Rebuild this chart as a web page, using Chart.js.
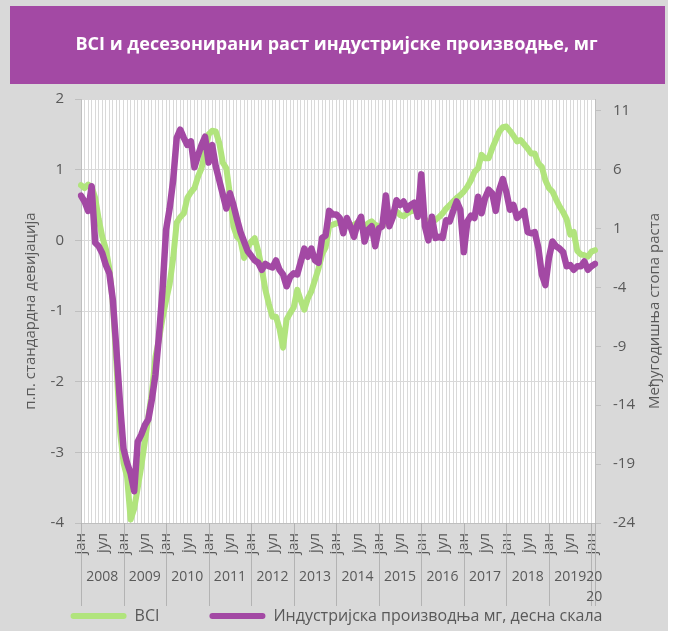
<!DOCTYPE html>
<html>
<head>
<meta charset="utf-8">
<script src="https://cdn.jsdelivr.net/npm/chart.js@4/dist/chart.umd.min.js"></script>
<style>
  html, body { margin: 0; padding: 0; background: #ffffff; }
</style>
</head>
<body>
<canvas id="chart" width="673" height="631"></canvas>
<script>
// Data (monthly, Jan 2008 - Feb 2020)
var years = ['2008', '2009', '2010', '2011', '2012', '2013', '2014', '2015', '2016', '2017', '2018', '2019', '2020'];
var monthTicks = ['јан', 'јул'];
var leftTicks = [-4, -3, -2, -1, 0, 1, 2];
var rightTicks = [-24, -19, -14, -9, -4, 1, 6, 11];

// BCI, standard deviations (left scale)
var bci = [
  0.78, 0.74, 0.79, 0.76, 0.60, 0.30, 0.05, -0.12, -0.40, -0.90, -1.75, -2.70,
  -3.15, -3.35, -3.95, -3.80, -3.50, -3.20, -2.85, -2.50, -2.15, -1.65, -1.40, -1.10,
  -0.85, -0.62, -0.25, 0.25, 0.33, 0.38, 0.60, 0.68, 0.74, 0.90, 1.02, 1.25,
  1.50, 1.55, 1.54, 1.38, 1.10, 1.02, 0.65, 0.20, 0.05, 0.00, -0.25, -0.10,
  -0.02, 0.03, -0.15, -0.40, -0.70, -0.90, -1.08, -1.08, -1.25, -1.52, -1.12, -1.03,
  -0.95, -0.70, -0.85, -0.98, -0.82, -0.72, -0.56, -0.40, -0.20, -0.10, 0.20, 0.22,
  0.24, 0.25, 0.22, 0.24, 0.20, 0.22, 0.25, 0.22, 0.20, 0.24, 0.27, 0.22,
  0.20, 0.20, 0.30, 0.38, 0.40, 0.41, 0.36, 0.34, 0.38, 0.41, 0.42, 0.43,
  0.40, 0.30, 0.25, 0.28, 0.29, 0.33, 0.38, 0.45, 0.50, 0.55, 0.60, 0.64,
  0.69, 0.76, 0.85, 0.97, 1.02, 1.21, 1.16, 1.16, 1.30, 1.42, 1.54, 1.60,
  1.61, 1.55, 1.48, 1.40, 1.42, 1.36, 1.30, 1.23, 1.23, 1.09, 1.04, 0.85,
  0.74, 0.69, 0.58, 0.48, 0.40, 0.30, 0.08, 0.12, -0.15, -0.20, -0.21, -0.23,
  -0.16, -0.14
];

// industrial production y/y growth, % (right scale)
var industry = [
  3.8, 3.3, 2.5, 4.6, -0.2, -0.5, -1.1, -2.1, -2.8, -5.1, -9.3, -13.8,
  -17.7, -18.9, -19.8, -21.3, -17.1, -16.5, -15.7, -15.2, -13.5, -11.4, -8.1, -4.2,
  0.9, 2.7, 5.1, 8.7, 9.4, 8.7, 8.1, 8.4, 6.2, 7.2, 8.1, 8.8,
  6.6, 8.1, 6.3, 5.1, 3.9, 2.7, 4.0, 3.0, 1.8, 0.7, -0.1, -0.9,
  -1.3, -1.7, -1.9, -2.5, -2.0, -2.2, -2.3, -1.7, -2.5, -2.9, -3.9, -3.1,
  -2.8, -2.9, -1.8, -0.7, -1.4, -0.7, -1.7, -1.9, 0.2, 0.4, 2.5, 2.2,
  2.2, 1.9, 0.6, 1.9, 1.2, 0.3, 1.4, 2.0, -0.1, 0.9, 1.2, -0.5,
  1.0, 1.2, 3.8, 1.2, 2.0, 3.4, 3.0, 3.3, 2.6, 3.0, 3.2, 2.0,
  5.6, 1.2, 0.0, 2.0, 0.2, 0.3, 0.2, 1.7, 1.6, 2.5, 3.3, 2.6,
  -1.0, 1.6, 2.1, 1.9, 3.7, 2.3, 3.6, 4.3, 4.0, 2.5, 4.3, 5.2,
  4.1, 2.6, 3.0, 1.9, 2.2, 2.5, 0.7, 0.6, 0.7, -0.6, -2.9, -3.8,
  -1.5, -0.1, -0.5, -0.7, -1.0, -2.2, -2.1, -2.5, -2.2, -2.2, -1.8, -2.5,
  -2.2, -2.0
];

var green = '#b1e47d';
var purple = '#a349a4';
var textGray = '#595959';
var fontName = '"Open Sans", "Noto Sans", sans-serif';

// one category per month
var labels = [];
for (var i = 0; i < bci.length; i++) {
  labels.push(years[Math.floor(i / 12)] + '-' + (i % 12 + 1));
}

// gray page, purple title bar, white plot area
var backgroundPlugin = {
  id: 'background',
  beforeDraw: function (chart) {
    var ctx = chart.ctx;
    var a = chart.chartArea;
    ctx.save();
    ctx.fillStyle = '#ffffff';
    ctx.fillRect(0, 0, chart.width, chart.height);
    ctx.fillStyle = '#d9d9d9';
    ctx.fillRect(0, 0, 668, chart.height);
    ctx.fillStyle = purple;
    ctx.fillRect(10, 6, 655, 78);
    ctx.fillStyle = '#ffffff';
    ctx.fillRect(a.left, a.top, a.right - a.left, a.bottom - a.top);
    ctx.restore();
  }
};

// year labels + separators under the axis, right axis title
var extrasPlugin = {
  id: 'extras',
  afterDraw: function (chart) {
    var ctx = chart.ctx;
    var x = chart.scales.x;
    var a = chart.chartArea;
    var last = bci.length - 1;
    ctx.save();
    ctx.strokeStyle = '#b3b3b3';
    ctx.lineWidth = 1;
    for (var k = 0; k <= years.length; k++) {
      var idx = Math.min(k * 12, last);
      var px = Math.round(x.getPixelForValue(idx)) + 0.5;
      ctx.beginPath();
      ctx.moveTo(px, a.bottom);
      ctx.lineTo(px, 606);
      ctx.stroke();
    }
    ctx.fillStyle = textGray;
    ctx.font = '14px ' + fontName;
    ctx.textAlign = 'center';
    ctx.textBaseline = 'middle';
    for (var j = 0; j < years.length; j++) {
      var start = j * 12;
      if (j === years.length - 1) {
        // the last year only has two months, so its label wraps
        var cx = (x.getPixelForValue(start) + x.getPixelForValue(last)) / 2 + 1;
        ctx.fillText(years[j].slice(0, 2), cx, 577);
        ctx.fillText(years[j].slice(2), cx, 597);
      } else {
        ctx.fillText(years[j], (x.getPixelForValue(start) + x.getPixelForValue(start + 12)) / 2, 577);
      }
    }
    // right axis title, reads bottom to top
    ctx.translate(655, (a.top + a.bottom) / 2);
    ctx.rotate(-Math.PI / 2);
    ctx.font = '15px ' + fontName;
    ctx.fillText('Међугодишња стопа раста', 0, 0);
    ctx.restore();
  }
};

var ctx = document.getElementById('chart').getContext('2d');
var chart = new Chart(ctx, {
  type: 'line',
  data: {
    labels: labels,
    datasets: [
      {
        label: 'BCI',
        data: bci,
        yAxisID: 'y',
        borderColor: green,
        backgroundColor: green,
        borderWidth: 6,
        pointRadius: 0,
        tension: 0,
        borderJoinStyle: 'round',
        borderCapStyle: 'round',
        order: 1
      },
      {
        label: 'Индустријска производња мг, десна скала',
        data: industry,
        yAxisID: 'y1',
        borderColor: purple,
        backgroundColor: purple,
        borderWidth: 6.5,
        pointRadius: 0,
        tension: 0,
        borderJoinStyle: 'round',
        borderCapStyle: 'round',
        order: 0
      }
    ]
  },
  options: {
    responsive: false,
    animation: false,
    devicePixelRatio: 1,
    layout: { padding: { top: 0, left: 0, right: 0, bottom: -3 } },
    plugins: {
      title: {
        display: true,
        text: 'BCI и десезонирани раст индустријске производње, мг',
        color: '#ffffff',
        font: { family: fontName, size: 18, weight: 'bold' },
        padding: { top: 34, bottom: 43.4 }
      },
      legend: {
        position: 'bottom',
        labels: {
          color: textGray,
          font: { family: fontName, size: 16 },
          boxWidth: 56,
          boxHeight: 6,
          padding: 50,
          useBorderRadius: true,
          borderRadius: 3,
          sort: function (a, b) { return a.datasetIndex - b.datasetIndex; },
          generateLabels: function (chart) {
            var items = Chart.defaults.plugins.legend.labels.generateLabels(chart);
            items.forEach(function (item) {
              item.lineWidth = 0;
              item.fillStyle = item.strokeStyle;
            });
            return items;
          }
        }
      },
      tooltip: { enabled: false }
    },
    scales: {
      x: {
        type: 'category',
        offset: false,
        grid: { color: '#d9d9d9', lineWidth: 1, drawTicks: false },
        border: { display: true, color: '#bfbfbf' },
        ticks: {
          autoSkip: false,
          minRotation: 90,
          maxRotation: 90,
          padding: 10,
          color: textGray,
          font: { family: fontName, size: 15 },
          callback: function (value, index) {
            var m = index % 12;
            if (m === 0) return monthTicks[0];
            if (m === 6) return monthTicks[1];
            return '';
          }
        },
        afterFit: function (scale) { scale.height = 35; }
      },
      y: {
        position: 'left',
        min: -4,
        max: 2,
        afterBuildTicks: function (scale) {
          scale.ticks = leftTicks.map(function (v) { return { value: v }; });
        },
        grid: { color: '#d9d9d9', tickColor: '#bfbfbf', tickLength: 6 },
        border: { color: '#bfbfbf' },
        ticks: { padding: 11, color: textGray, font: { family: fontName, size: 15 } },
        title: {
          display: true,
          text: 'п.п. стандардна девијација',
          color: textGray,
          font: { family: fontName, size: 15 },
          padding: { top: 22, bottom: 0 }
        },
        afterFit: function (scale) { scale.width = 81; }
      },
      y1: {
        position: 'right',
        min: -24,
        max: 12,
        afterBuildTicks: function (scale) {
          scale.ticks = rightTicks.map(function (v) { return { value: v }; });
        },
        grid: { drawOnChartArea: false, color: '#bfbfbf', tickLength: 6 },
        border: { color: '#bfbfbf' },
        ticks: { padding: 12, color: textGray, font: { family: fontName, size: 15 } },
        afterFit: function (scale) { scale.width = 78; }
      }
    }
  },
  plugins: [backgroundPlugin, extrasPlugin]
});
</script>
</body>
</html>
